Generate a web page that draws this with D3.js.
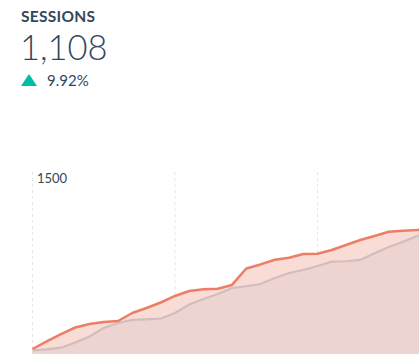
<!DOCTYPE html>
<html lang="en">
<head>
  <meta charset="utf-8">
  <title>Sessions</title>
  <script src="https://cdn.jsdelivr.net/npm/d3@7"></script>
  <style>
    body { margin: 0; background: #fff; overflow: hidden; }
    text { font-family: Lato, "Open Sans", sans-serif; fill: #33475b; }
  </style>
</head>
<body>
  <script>
    // headline numbers
    let metricName = "SESSIONS";
    let metricValue = "1,108";
    let metricChange = "9.92%";
    let yTicks = [1500];
    let gridDays = [0, 10, 20, 30];
    // daily values (current period vs previous period)
    let days = d3.range(29);
    let current = [282, 334, 385, 430, 454, 468, 475, 530, 564, 602, 647, 681, 693, 697, 723,
      836, 864, 896, 910, 936, 937, 963, 998, 1032, 1060, 1089, 1095, 1101, 1108];
    let previous = [272, 279, 291, 327, 368, 427, 461, 482, 486, 492, 530, 588, 626, 661, 702,
      714, 729, 771, 805, 826, 853, 883, 886, 895, 941, 984, 1020, 1060, 1090];

    let svgWidth = 419, svgHeight = 354;
    let chartTop = 172, chartBottom = 390;

    let svg = d3.select("body").append("svg")
      .attr("width", svgWidth)
      .attr("height", svgHeight);

    // header
    svg.append("text").text(metricName)
      .attr("x", 21).attr("y", 22)
      .attr("font-size", 15.5).attr("font-weight", "bold")
      .attr("letter-spacing", 0.3);
    svg.append("text").text(metricValue)
      .attr("x", 20).attr("y", 60)
      .attr("font-size", 34.5).attr("font-weight", 300);
    svg.append("path")
      .attr("d", "M21,86 L29,74 L37,86 Z")
      .attr("fill", "#00bda5");
    svg.append("text").text(metricChange)
      .attr("x", 47).attr("y", 86)
      .attr("font-size", 15);

    // scales
    let xScale = d3.scaleLinear().domain([0, 27]).range([32.5, 417.25]);
    let yScale = d3.scaleLinear().domain([0, 1500]).range([chartBottom, chartTop]);

    // vertical dashed gridlines
    svg.selectAll(".grid").data(gridDays).join("line")
      .attr("x1", d => xScale(d)).attr("x2", d => xScale(d))
      .attr("y1", chartTop).attr("y2", chartBottom)
      .attr("stroke", "#e6e6e6")
      .attr("stroke-dasharray", "3,3");

    // y tick label
    svg.selectAll(".ytick").data(yTicks).join("text")
      .text(d => d)
      .attr("x", 37).attr("y", d => yScale(d) + 11)
      .attr("font-size", 13);

    let area = values => d3.area()
      .x((d, i) => xScale(days[i]))
      .y0(chartBottom)
      .y1(d => yScale(d))(values);
    let line = values => d3.line()
      .x((d, i) => xScale(days[i]))
      .y(d => yScale(d))(values);

    svg.append("path").attr("d", area(current)).attr("fill", "#f9dcd6");
    svg.append("path").attr("d", area(previous)).attr("fill", "#edd4d0");
    svg.append("path").attr("d", line(previous))
      .attr("fill", "none").attr("stroke", "#d2bdbe").attr("stroke-width", 2.2);
    svg.append("path").attr("d", line(current))
      .attr("fill", "none").attr("stroke", "#eb7f66").attr("stroke-width", 2.5)
      .attr("stroke-linejoin", "round");
  </script>
</body>
</html>
